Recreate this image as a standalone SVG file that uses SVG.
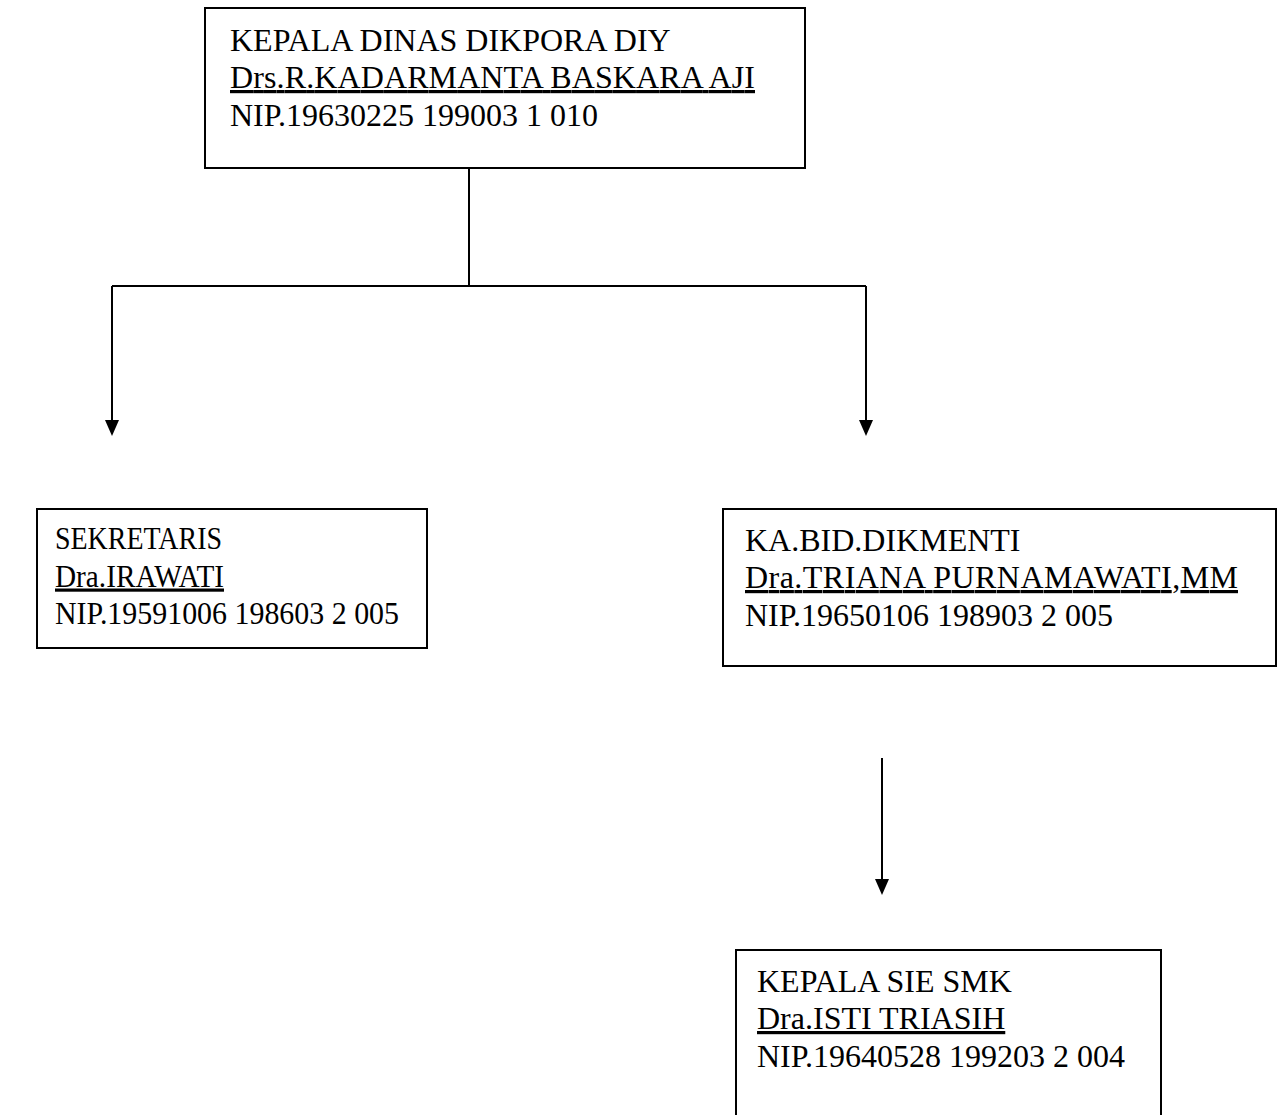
<svg xmlns="http://www.w3.org/2000/svg" width="1282" height="1115" viewBox="0 0 1282 1115">
<style>
.box{fill:#fff;stroke:#000;stroke-width:2}
.t{font-family:"Liberation Serif","Times New Roman",serif;font-size:32px;fill:#000}
.u{text-decoration:underline;text-decoration-thickness:2.2px;text-underline-offset:4px}
.c{stroke:#000;stroke-width:2;fill:none}
.ah{fill:#000}
</style>
<rect width="1282" height="1115" fill="#fff"/>
<g id="connectors">
<path class="c" d="M469,168 V286"/>
<path class="c" d="M112,286 H866"/>
<path class="c" d="M112,286 V421"/>
<polygon class="ah" points="105,420 119,420 112,436"/>
<path class="c" d="M866,286 V421"/>
<polygon class="ah" points="859,420 873,420 866,436"/>
<path class="c" d="M882,758 V880"/>
<polygon class="ah" points="875,879 889,879 882,895"/>
</g>
<g id="kepala-dinas">
<rect class="box" x="205" y="8" width="600" height="160"/>
<text class="t" x="230" y="50.5">KEPALA DINAS DIKPORA DIY</text>
<text class="t u" x="230" y="88" textLength="525" lengthAdjust="spacing">Drs.R.KADARMANTA BASKARA AJI</text>
<text class="t" x="230" y="125.5">NIP.19630225 199003 1 010</text>
</g>
<g id="sekretaris">
<rect class="box" x="37" y="509" width="390" height="139"/>
<text class="t" x="55" y="549" textLength="167" lengthAdjust="spacingAndGlyphs">SEKRETARIS</text>
<text class="t u" x="55" y="586.5" textLength="169" lengthAdjust="spacingAndGlyphs">Dra.IRAWATI</text>
<text class="t" x="55" y="624" textLength="344" lengthAdjust="spacingAndGlyphs">NIP.19591006 198603 2 005</text>
</g>
<g id="kabid-dikmenti">
<rect class="box" x="723" y="509" width="553" height="157"/>
<text class="t" x="745" y="550.5">KA.BID.DIKMENTI</text>
<text class="t u" x="745" y="588" textLength="493" lengthAdjust="spacing">Dra.TRIANA PURNAMAWATI,MM</text>
<text class="t" x="745" y="625.5">NIP.19650106 198903 2 005</text>
</g>
<g id="kepala-sie-smk">
<rect class="box" x="736" y="950" width="425" height="180"/>
<text class="t" x="757" y="991.5">KEPALA SIE SMK</text>
<text class="t u" x="757" y="1029">Dra.ISTI TRIASIH</text>
<text class="t" x="757" y="1066.5">NIP.19640528 199203 2 004</text>
</g>
</svg>
